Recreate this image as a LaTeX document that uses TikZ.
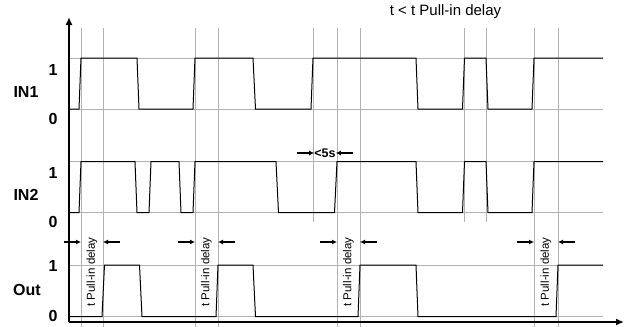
\documentclass[tikz,border=0pt]{standalone}
\usepackage{fontspec}
\setmainfont{Liberation Sans}
\usetikzlibrary{arrows.meta}

\begin{document}
\begin{tikzpicture}[x=1pt,y=-1pt,
	grid/.style={black!30, line width=0.8pt},
	wave/.style={black, line width=1pt, line join=miter},
	axis/.style={black, line width=1.6pt, -{Latex[length=8pt,width=7pt]}},
	dly/.style={black, line width=1.3pt, -{Latex[length=5pt,width=5pt]}},
	lbl/.style={font=\fontsize{16}{19}\selectfont\bfseries, inner sep=0pt},
	dlytext/.style={font=\fontsize{11.5}{13}\selectfont, rotate=90, inner sep=0pt}]
	\useasboundingbox (0,0) rectangle (630,327);

	% grid
	\foreach \y in {58,109,161.7,212.7,265,316.7}
		\draw[grid] (69,\y) -- (603,\y);
	\foreach \x in {81,103,195,218,337,360,534,558}
		\draw[grid] (\x,28) -- (\x,327);
	\foreach \x in {313,464.5,486}
		\draw[grid] (\x,28) -- (\x,222);

	% signals
	\draw[wave] (69,109) -- (79,109) -- (81,58) -- (137,58) -- (139,109) -- (193,109) -- (195,58) -- (253,58) -- (255.5,109) -- (311,109) -- (313,58) -- (416,58) -- (418,109) -- (462.5,109) -- (464.5,58) -- (486,58) -- (488,109) -- (532,109) -- (534,58) -- (603,58);
	\draw[wave] (69,212.7) -- (79,212.7) -- (81,161.7) -- (135,161.7) -- (137,212.7) -- (149,212.7) -- (151,161.7) -- (179,161.7) -- (181,212.7) -- (193,212.7) -- (195,161.7) -- (276,161.7) -- (278.5,212.7) -- (334.5,212.7) -- (337,161.7) -- (416,161.7) -- (418,212.7) -- (462.5,212.7) -- (464.5,161.7) -- (486,161.7) -- (488,212.7) -- (532,212.7) -- (534,161.7) -- (603,161.7);
	\draw[wave] (69,316.7) -- (102,316.7) -- (104.5,265) -- (139.5,265) -- (142,316.7) -- (216,316.7) -- (218,265) -- (253,265) -- (255.5,316.7) -- (358,316.7) -- (360,265) -- (416,265) -- (418,316.7) -- (556,316.7) -- (558,265) -- (603,265);

	% axes
	\coordinate (origin) at (69,322);
	\draw[axis] (origin) -- (69,17);
	\draw[axis] (origin) -- (624,322);

	% labels
	\node[lbl] (in1) at (26,92) {IN1};
	\node[lbl] (in1hi) at (53,69.5) {1};
	\node[lbl] (in1lo) at (53,118.5) {0};
	\node[lbl] (in2) at (26,195) {IN2};
	\node[lbl] (in2hi) at (53,173) {1};
	\node[lbl] (in2lo) at (53,221.5) {0};
	\node[lbl] (out) at (27,290) {Out};
	\node[lbl] (outhi) at (53,265.5) {1};
	\node[lbl] (outlo) at (53,316) {0};
	\node[font=\fontsize{15}{18}\selectfont, inner sep=0pt] (title) at (445.5,12) {t < t Pull-in delay};

	% pull-in delays
	\foreach \a/\b in {81/103,195/218,337/360,534/558} {
		\coordinate (l\a) at (\a,242);
		\coordinate (r\a) at (\b,242);
		\draw[dly] ([xshift=-17pt]l\a) -- (l\a);
		\draw[dly] ([xshift=17pt]r\a) -- (r\a);
		\node[dlytext] (d\a) at ({(\a+\b)/2},272) {t Pull-in delay};
	}

	% <5s
	\node[font=\fontsize{12.5}{15}\selectfont\bfseries, inner sep=0pt] (lt5) at (325,153) {<5s};
	\draw[dly] (297,153) -- (lt5.west);
	\draw[dly] (353,153) -- (lt5.east);
\end{tikzpicture}
\end{document}
